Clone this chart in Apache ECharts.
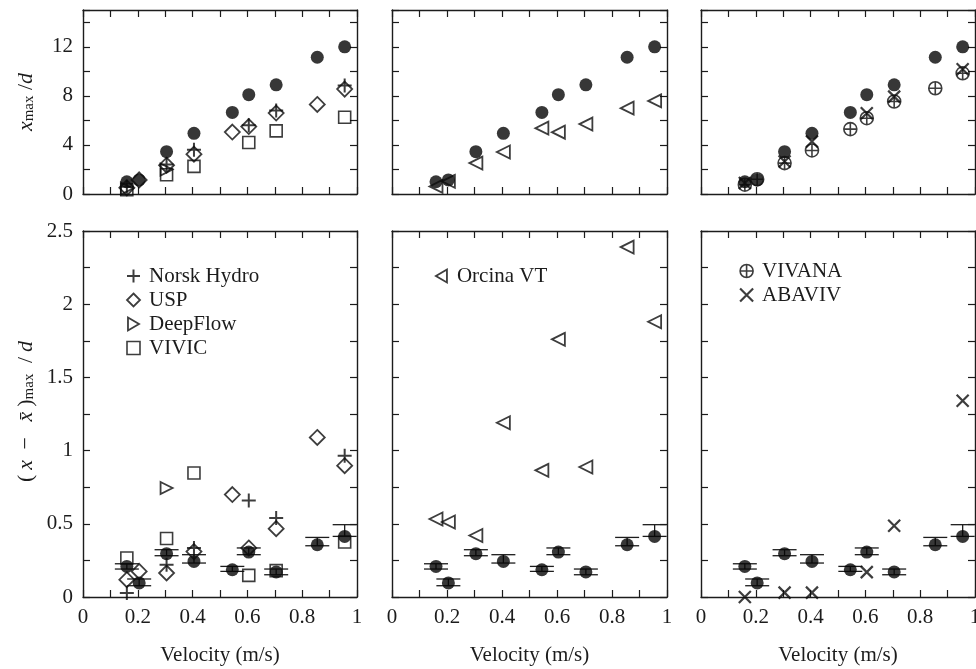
<!DOCTYPE html>
<html>
<head>
<meta charset="utf-8">
<script src="https://cdn.jsdelivr.net/npm/echarts@6/dist/echarts.min.js"></script>
<style>
html,body{margin:0;padding:0;background:#fff;}
#chart{width:976px;height:669px;}
</style>
</head>
<body>
<div id="chart"></div>
<script>
// ---------- data ----------
// experimental (filled circles)
const expV      = [0.16, 0.205, 0.305, 0.405, 0.545, 0.605, 0.705, 0.855, 0.955];
const expXmax   = [1.0, 1.15, 3.45, 4.95, 6.65, 8.1, 8.9, 11.15, 12.0];
const expAmp    = [0.209, 0.096, 0.296, 0.243, 0.186, 0.307, 0.171, 0.357, 0.414];
const expAmpLow = [0.191, 0.077, 0.282, 0.232, 0.175, 0.289, 0.152, 0.350, 0.414];
const expAmpHigh= [0.227, 0.123, 0.323, 0.289, 0.209, 0.335, 0.191, 0.407, 0.494];

// Norsk Hydro (+)
const nhV    = [0.16, 0.305, 0.405, 0.605, 0.705, 0.955];
const nhXmax = [0.6, 2.4, 3.6, 5.6, 6.8, 8.85];
const nhAmp  = [0.027, 0.22, 0.335, 0.66, 0.54, 0.965];

// USP (diamond)
const uspV    = [0.16, 0.205, 0.305, 0.405, 0.545, 0.605, 0.705, 0.855, 0.955];
const uspXmax = [0.5, 1.15, 2.35, 3.25, 5.05, 5.5, 6.6, 7.3, 8.55];
const uspAmp  = [0.118, 0.175, 0.164, 0.31, 0.70, 0.335, 0.467, 1.09, 0.897];

// DeepFlow (right triangle)
const dfV       = [0.16, 0.305];
const dfXmax    = [0.45, 2.0];
const dfAmpV    = [0.305];
const dfAmp     = [0.745];

// VIVIC (square)
const vivicV    = [0.16, 0.305, 0.405, 0.605, 0.705, 0.955];
const vivicXmax = [0.35, 1.57, 2.25, 4.2, 5.15, 6.26];
const vivicAmp  = [0.266, 0.40, 0.847, 0.148, 0.18, 0.376];

// Orcina VT (left triangle)
const orcV    = [0.16, 0.205, 0.305, 0.405, 0.545, 0.605, 0.705, 0.855, 0.955];
const orcXmax = [0.62, 1.03, 2.52, 3.42, 5.37, 5.04, 5.7, 7.0, 7.59];
const orcAmp  = [0.533, 0.512, 0.42, 1.19, 0.865, 1.76, 0.888, 2.39, 1.88];

// VIVANA (circle plus)
const vivV    = [0.16, 0.205, 0.305, 0.405, 0.545, 0.605, 0.705, 0.855, 0.955];
const vivXmax = [0.76, 1.2, 2.52, 3.55, 5.29, 6.18, 7.54, 8.62, 9.84];

// ABAVIV (x)
const abV    = [0.16, 0.305, 0.405, 0.605, 0.705, 0.955];
const abXmax = [0.9, 2.65, 4.28, 6.59, 7.94, 10.17];
const abAmp  = [0.0, 0.03, 0.03, 0.17, 0.487, 1.34];

// ---------- styling ----------
const FONT = 'Liberation Serif';
const INK = '#1c1c1c';
const MARK = '#0d0d0d';
const SYM = {
  plus: 'path://M1,0 L1,2 M0,1 L2,1',
  cross: 'path://M0,0 L2,2 M0,2 L2,0',
  triR: 'path://M0,0 L1.7,1 L0,2 Z',
  triL: 'path://M1.7,0 L0,1 L1.7,2 Z',
  oplus: 'path://M0,1 A1,1 0 1,0 2,1 A1,1 0 1,0 0,1 Z M0,1 L2,1 M1,0 L1,2',
  square: 'path://M0,0 L2,0 L2,2 L0,2 Z'
};
const hollow = (w) => ({color: 'rgba(0,0,0,0)', borderColor: MARK, borderWidth: w});

const gridLeft = [83, 392, 701];
const gridW = [274, 275, 274];
const gridTop = [10, 231];
const gridH = [184, 366];

const grids = [];
const xAxes = [];
const yAxes = [];
function near(v, step){ return Math.abs(v/step - Math.round(v/step)) < 1e-6; }

const richName = {
  i: {fontFamily: FONT, fontSize: 22, fontStyle: 'italic', color: INK, lineHeight: 22},
  ip: {fontFamily: FONT, fontSize: 22, fontStyle: 'italic', color: INK, lineHeight: 22, padding: [0, 5, 0, 5]},
  n: {fontFamily: FONT, fontSize: 22, color: INK, lineHeight: 22},
  np: {fontFamily: FONT, fontSize: 22, color: INK, lineHeight: 22, padding: [0, 5, 0, 5]},
  s: {fontFamily: FONT, fontSize: 15, color: INK, lineHeight: 15, padding: [14, 0, 0, 0], verticalAlign: 'bottom'}
};

for (let i = 0; i < 6; i++) {
  const col = i % 3, row = Math.floor(i / 3);
  grids.push({left: gridLeft[col], width: gridW[col], top: gridTop[row], height: gridH[row], outerBoundsMode: 'none'});
  const tick = {show: true, inside: true, length: 7, lineStyle: {color: INK, width: 1.2}};
  const line = {show: true, onZero: false, lineStyle: {color: INK, width: 1.4}};
  const xBase = {type: 'value', gridIndex: i, min: 0, max: 1, interval: 0.1,
    axisLine: line, axisTick: tick, splitLine: {show: false}};
  xAxes.push(Object.assign({}, xBase, {
    position: 'bottom',
    axisLabel: {show: row === 1, margin: 10, fontFamily: FONT, fontSize: 21, color: INK,
      formatter: v => near(v, 0.2) ? String(Math.round(v * 10) / 10) : ''},
    name: row === 1 ? 'Velocity (m/s)' : '',
    nameLocation: 'middle', nameGap: 48,
    nameTextStyle: {fontFamily: FONT, fontSize: 21, color: INK}
  }));
  xAxes.push(Object.assign({}, xBase, {position: 'top', axisLabel: {show: false}}));

  const yBase = row === 0
    ? {type: 'value', gridIndex: i, min: 0, max: 15, interval: 2}
    : {type: 'value', gridIndex: i, min: 0, max: 2.5, interval: 0.25};
  Object.assign(yBase, {axisLine: line, axisTick: tick, splitLine: {show: false}});
  const yName = row === 0
    ? '{i|x}{s|max}{n| /}{i|d}'
    : '{np|(}{i|x}{np| \u2212 }{ip|x\u0304}{n|)}{s|max}{np| /}{i|d}';
  yAxes.push(Object.assign({}, yBase, {
    position: 'left',
    axisLabel: {show: col === 0, margin: 10, fontFamily: FONT, fontSize: 21, color: INK,
      formatter: row === 0
        ? (v => (near(v, 4) && v <= 12) ? String(Math.round(v)) : '')
        : (v => near(v, 0.5) ? String(Math.round(v * 10) / 10) : '')},
    name: col === 0 ? yName : '',
    nameLocation: 'middle', nameRotate: 90, nameGap: 46,
    nameTextStyle: {fontFamily: FONT, fontSize: 22, color: INK, rich: richName}
  }));
  yAxes.push(Object.assign({}, yBase, {position: 'right', axisLabel: {show: false}}));
}

const series = [];
function pts(xs, ys){ return xs.map((x, k) => [x, ys[k]]); }
function scatter(grid, name, data, symbol, size, style, z){
  series.push({type: 'scatter', name: name, xAxisIndex: 2 * grid, yAxisIndex: 2 * grid,
    data: data, symbol: symbol, symbolSize: size, itemStyle: style, clip: false, z: z || 5,
    emphasis: {disabled: true}, silent: true});
}
function errbars(grid){
  series.push({type: 'custom', name: 'err', xAxisIndex: 2 * grid, yAxisIndex: 2 * grid,
    data: expV.map((v, k) => [v, expAmpLow[k], expAmpHigh[k]]),
    encode: {x: 0, y: [1, 2]}, z: 2, silent: true,
    renderItem: function(params, api){
      const x = api.value(0);
      const a = api.coord([x, api.value(1)]);
      const b = api.coord([x, api.value(2)]);
      const hw = 12;
      const st = {stroke: INK, lineWidth: 1.3, fill: null};
      return {type: 'group', children: [
        {type: 'line', shape: {x1: a[0], y1: a[1], x2: b[0], y2: b[1]}, style: st},
        {type: 'line', shape: {x1: a[0] - hw, y1: a[1], x2: a[0] + hw, y2: a[1]}, style: st},
        {type: 'line', shape: {x1: b[0] - hw, y1: b[1], x2: b[0] + hw, y2: b[1]}, style: st}
      ]};
    }});
}
const filled = {color: '#050505'};

// experimental points in all panels
for (let c = 0; c < 3; c++) {
  scatter(c, 'Experiment', pts(expV, expXmax), 'circle', 13, filled, 4);
  scatter(3 + c, 'Experiment', pts(expV, expAmp), 'circle', 13, filled, 4);
  errbars(3 + c);
}
// left column
scatter(0, 'Norsk Hydro', pts(nhV, nhXmax), SYM.plus, 14, hollow(2));
scatter(0, 'USP', pts(uspV, uspXmax), 'diamond', 15, hollow(1.8));
scatter(0, 'DeepFlow', pts(dfV, dfXmax), SYM.triR, 12, hollow(1.8));
scatter(0, 'VIVIC', pts(vivicV, vivicXmax), SYM.square, 12, hollow(1.6));
scatter(3, 'Norsk Hydro', pts(nhV, nhAmp), SYM.plus, 14, hollow(2));
scatter(3, 'USP', pts(uspV, uspAmp), 'diamond', 15, hollow(1.8));
scatter(3, 'DeepFlow', pts(dfAmpV, dfAmp), SYM.triR, 12, hollow(1.8));
scatter(3, 'VIVIC', pts(vivicV, vivicAmp), SYM.square, 12, hollow(1.6));
// middle column
scatter(1, 'Orcina VT', pts(orcV, orcXmax), SYM.triL, 13, hollow(1.8));
scatter(4, 'Orcina VT', pts(orcV, orcAmp), SYM.triL, 13, hollow(1.8));
// right column
scatter(2, 'VIVANA', pts(vivV, vivXmax), SYM.oplus, 13, hollow(1.6));
scatter(2, 'ABAVIV', pts(abV, abXmax), SYM.cross, 12, hollow(2.2));
scatter(5, 'ABAVIV', pts(abV, abAmp), SYM.cross, 12, hollow(2.2));

const legText = {fontFamily: FONT, fontSize: 21, color: INK, lineHeight: 22, padding: [0, 0, 0, 4]};
function legItem(name, icon, w){ return {name: name, icon: icon, itemStyle: hollow(w)}; }
const legendBase = {orient: 'vertical', itemWidth: 13, itemHeight: 13, itemGap: 2,
  textStyle: legText, selectedMode: false, inactiveColor: INK};

const option = {
  animation: false,
  backgroundColor: '#fff',
  grid: grids,
  xAxis: xAxes,
  yAxis: yAxes,
  legend: [
    Object.assign({}, legendBase, {left: 121, top: 260, data: [
      legItem('Norsk Hydro', SYM.plus, 2),
      legItem('USP', 'diamond', 1.8),
      legItem('DeepFlow', SYM.triR, 1.8),
      legItem('VIVIC', SYM.square, 1.6)
    ]}),
    Object.assign({}, legendBase, {left: 430, top: 260, data: [
      legItem('Orcina VT', SYM.triL, 1.8)
    ]}),
    Object.assign({}, legendBase, {left: 734, top: 255, data: [
      legItem('VIVANA', SYM.oplus, 1.6),
      legItem('ABAVIV', SYM.cross, 2.2)
    ]})
  ],
  series: series
};

const chart = echarts.init(document.getElementById('chart'), null, {renderer: 'canvas'});
chart.setOption(option);
</script>
</body>
</html>
